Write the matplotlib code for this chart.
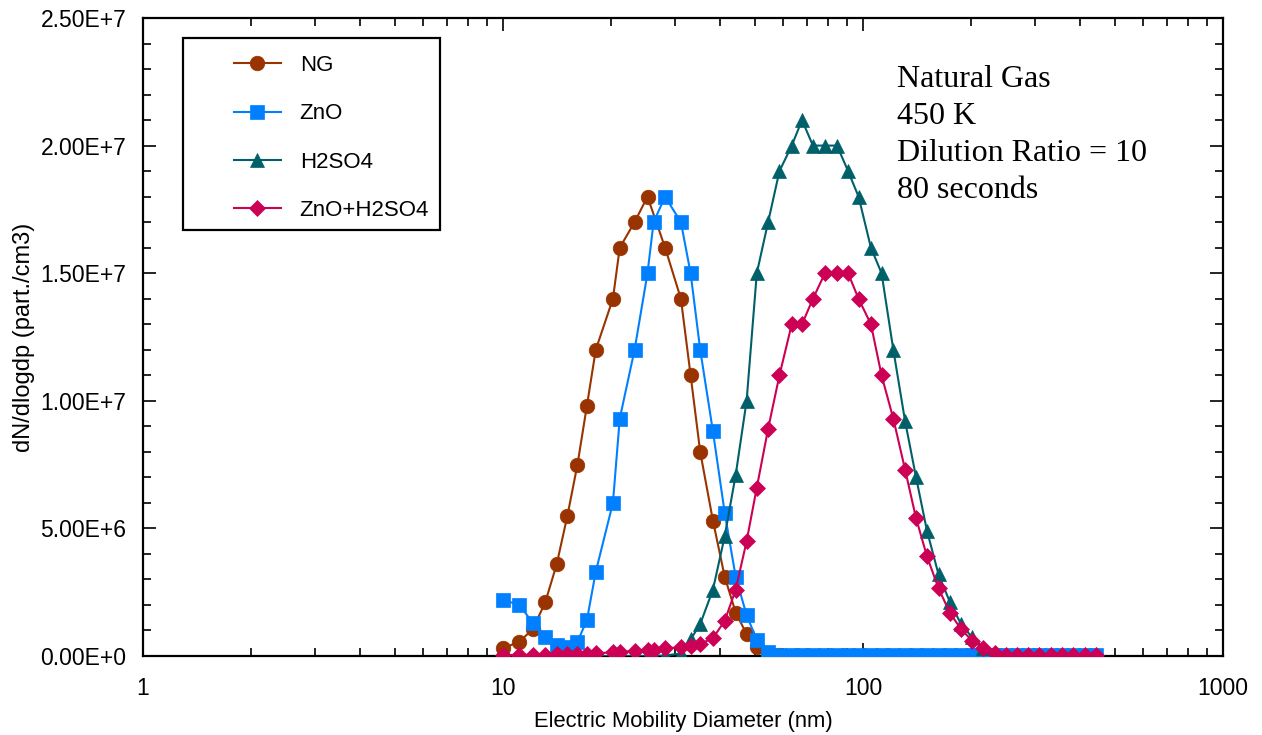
import matplotlib
matplotlib.use("Agg")
import matplotlib.pyplot as plt
import numpy as np
from matplotlib.patches import Rectangle
from matplotlib.ticker import FuncFormatter, LogLocator, MultipleLocator, NullFormatter

plt.rcParams["font.family"] = ["Liberation Sans", "DejaVu Sans"]

# Mobility diameter bins (nm)
diameter_nm = [
    10.0, 11.1, 12.1, 13.1, 14.1, 15.1, 16.1, 17.1, 18.1, 20.2,
    21.1, 23.2, 25.2, 26.2, 28.2, 31.2, 33.2, 35.3, 38.3, 41.3,
    44.3, 47.5, 50.7, 54.5, 58.6, 63.4, 67.7, 72.6, 78.4, 84.7,
    90.9, 97.2, 105.2, 112.6, 121.4, 130.9, 140.4, 150.6, 162.1, 174.5,
    187.2, 200.9, 216.1, 232.6, 249.6, 267.9, 287.3, 308.3, 332.9, 357.1,
    383.1, 413.7, 443.8,
]

# Number size distributions, dN/dlogdp in units of 1e6 part./cm3
ng = [
    0.30, 0.56, 1.05, 2.1, 3.6, 5.5, 7.5, 9.8, 12.0, 14.0,
    16.0, 17.0, 18.0, np.nan, 16.0, 14.0, 11.0, 8.0, 5.3, 3.1,
    1.7, 0.86, 0.34, 0.10, 0.03,
]
zno = [
    2.2, 2.0, 1.3, 0.75, 0.43, 0.36, 0.56, 1.4, 3.3, 6.0,
    9.3, 12.0, 15.0, 17.0, 18.0, 17.0, 15.0, 12.0, 8.8, 5.6,
    3.1, 1.6, 0.63, 0.17, 0.04, 0.03, 0.03, 0.03, 0.03, 0.03,
    0.03, 0.03, 0.03, 0.03, 0.03, 0.03, 0.03, 0.03, 0.03, 0.03,
    0.03, 0.03, 0.03, 0.03, 0.03, 0.03, 0.03, 0.03, 0.03, 0.03,
    0.03, 0.03, 0.03,
]
h2so4 = [
    0.0, 0.0, 0.0, 0.0, 0.0, 0.0, 0.0, 0.0, 0.0, 0.0,
    0.0, 0.0, 0.0, 0.0, 0.02, 0.10, 0.65, 1.25, 2.6, 4.7,
    7.1, 10.0, 15.0, 17.0, 19.0, 20.0, 21.0, 20.0, 20.0, 20.0,
    19.0, 18.0, 16.0, 15.0, 12.0, 9.2, 7.0, 4.9, 3.2, 2.1,
    1.25, 0.73, 0.33, 0.12, 0.03, 0.0, 0.0, 0.0, 0.0, 0.0,
    0.0, 0.0, 0.0,
]
zno_h2so4 = [
    0.04, 0.04, 0.05, 0.05, 0.06, 0.07, 0.08, 0.09, 0.10, 0.15,
    0.16, 0.20, 0.22, 0.24, 0.30, 0.34, 0.39, 0.47, 0.70, 1.38,
    2.6, 4.5, 6.6, 8.9, 11.0, 13.0, 13.0, 14.0, 15.0, 15.0,
    15.0, 14.0, 13.0, 11.0, 9.3, 7.3, 5.4, 3.9, 2.65, 1.68,
    1.05, 0.60, 0.30, 0.13, 0.05, 0.04, 0.04, 0.04, 0.04, 0.04,
    0.04, 0.04, 0.04,
]

series = [
    ("NG", ng, "#993300", "o", 10.5),
    ("ZnO", zno, "#0080FF", "s", 10.0),
    ("H2SO4", h2so4, "#00606A", "^", 10.5),
    ("ZnO+H2SO4", zno_h2so4, "#CC0055", "D", 8.0),
]

conditions = ["Natural Gas", "450 K", "Dilution Ratio = 10", "80 seconds"]

W, H = 1262, 735
fig = plt.figure(figsize=(W / 100, H / 100), dpi=100)
ax = fig.add_axes([143 / W, 1 - 656 / H, 1080 / W, 638 / H])

dp = np.array(diameter_nm)
for i, (label, values, color, marker, ms) in enumerate(series):
    y = np.array(values) * 1e6
    x = dp[: len(y)]
    keep = ~np.isnan(y)
    ax.plot(x[keep], y[keep], color=color, lw=1.5, marker=marker, ms=ms,
            mec=color, mfc=color, mew=0.5, label=label, zorder=3 + i)

ax.set_xscale("log")
ax.set_xlim(1, 1000)
ax.set_ylim(0, 2.5e7)

ax.xaxis.set_major_locator(LogLocator(base=10))
ax.xaxis.set_minor_locator(LogLocator(base=10, subs=np.arange(2, 10)))
ax.xaxis.set_minor_formatter(NullFormatter())
ax.xaxis.set_major_formatter(FuncFormatter(lambda v, _: f"{v:g}"))

ax.yaxis.set_major_locator(MultipleLocator(5e6))
ax.yaxis.set_minor_locator(MultipleLocator(1e6))


def sci_label(v, _):
    mant, exp = f"{v:.2E}".split("E")
    return f"{mant}E{int(exp):+d}"


ax.yaxis.set_major_formatter(FuncFormatter(sci_label))

ax.tick_params(which="both", direction="in", top=True, right=True,
               labelsize=16.5, width=1.2, colors="black")
ax.tick_params(which="major", length=9.5)
ax.tick_params(which="minor", length=5.5)
ax.tick_params(axis="y", which="major", pad=12)
ax.tick_params(axis="x", which="major", pad=15)
for sp in ax.spines.values():
    sp.set_linewidth(1.6)

ax.set_xlabel("Electric Mobility Diameter (nm)", fontsize=15.8, labelpad=8)
ax.set_ylabel("dN/dlogdp (part./cm3)", fontsize=17, labelpad=4)

# legend frame drawn on its own so the side padding can exceed the top padding
fig.patches.append(Rectangle((183 / W, 1 - 230 / H), 257 / W, 192 / H,
                             transform=fig.transFigure, fill=False, ec="black",
                             lw=1.6, zorder=10))
ax.legend(loc="upper left", bbox_to_anchor=(223 / W, 1 - 44 / H),
          bbox_transform=fig.transFigure, frameon=False, fontsize=16,
          borderpad=0, handlelength=2.1, handletextpad=0.85, labelspacing=1.23)

for k, line in enumerate(conditions):
    fig.text(897 / W, 1 - (87 + 37 * k) / H, line, fontsize=23,
             family=["Liberation Serif", "DejaVu Serif"], va="baseline")

fig.savefig("out.png", dpi=100)
